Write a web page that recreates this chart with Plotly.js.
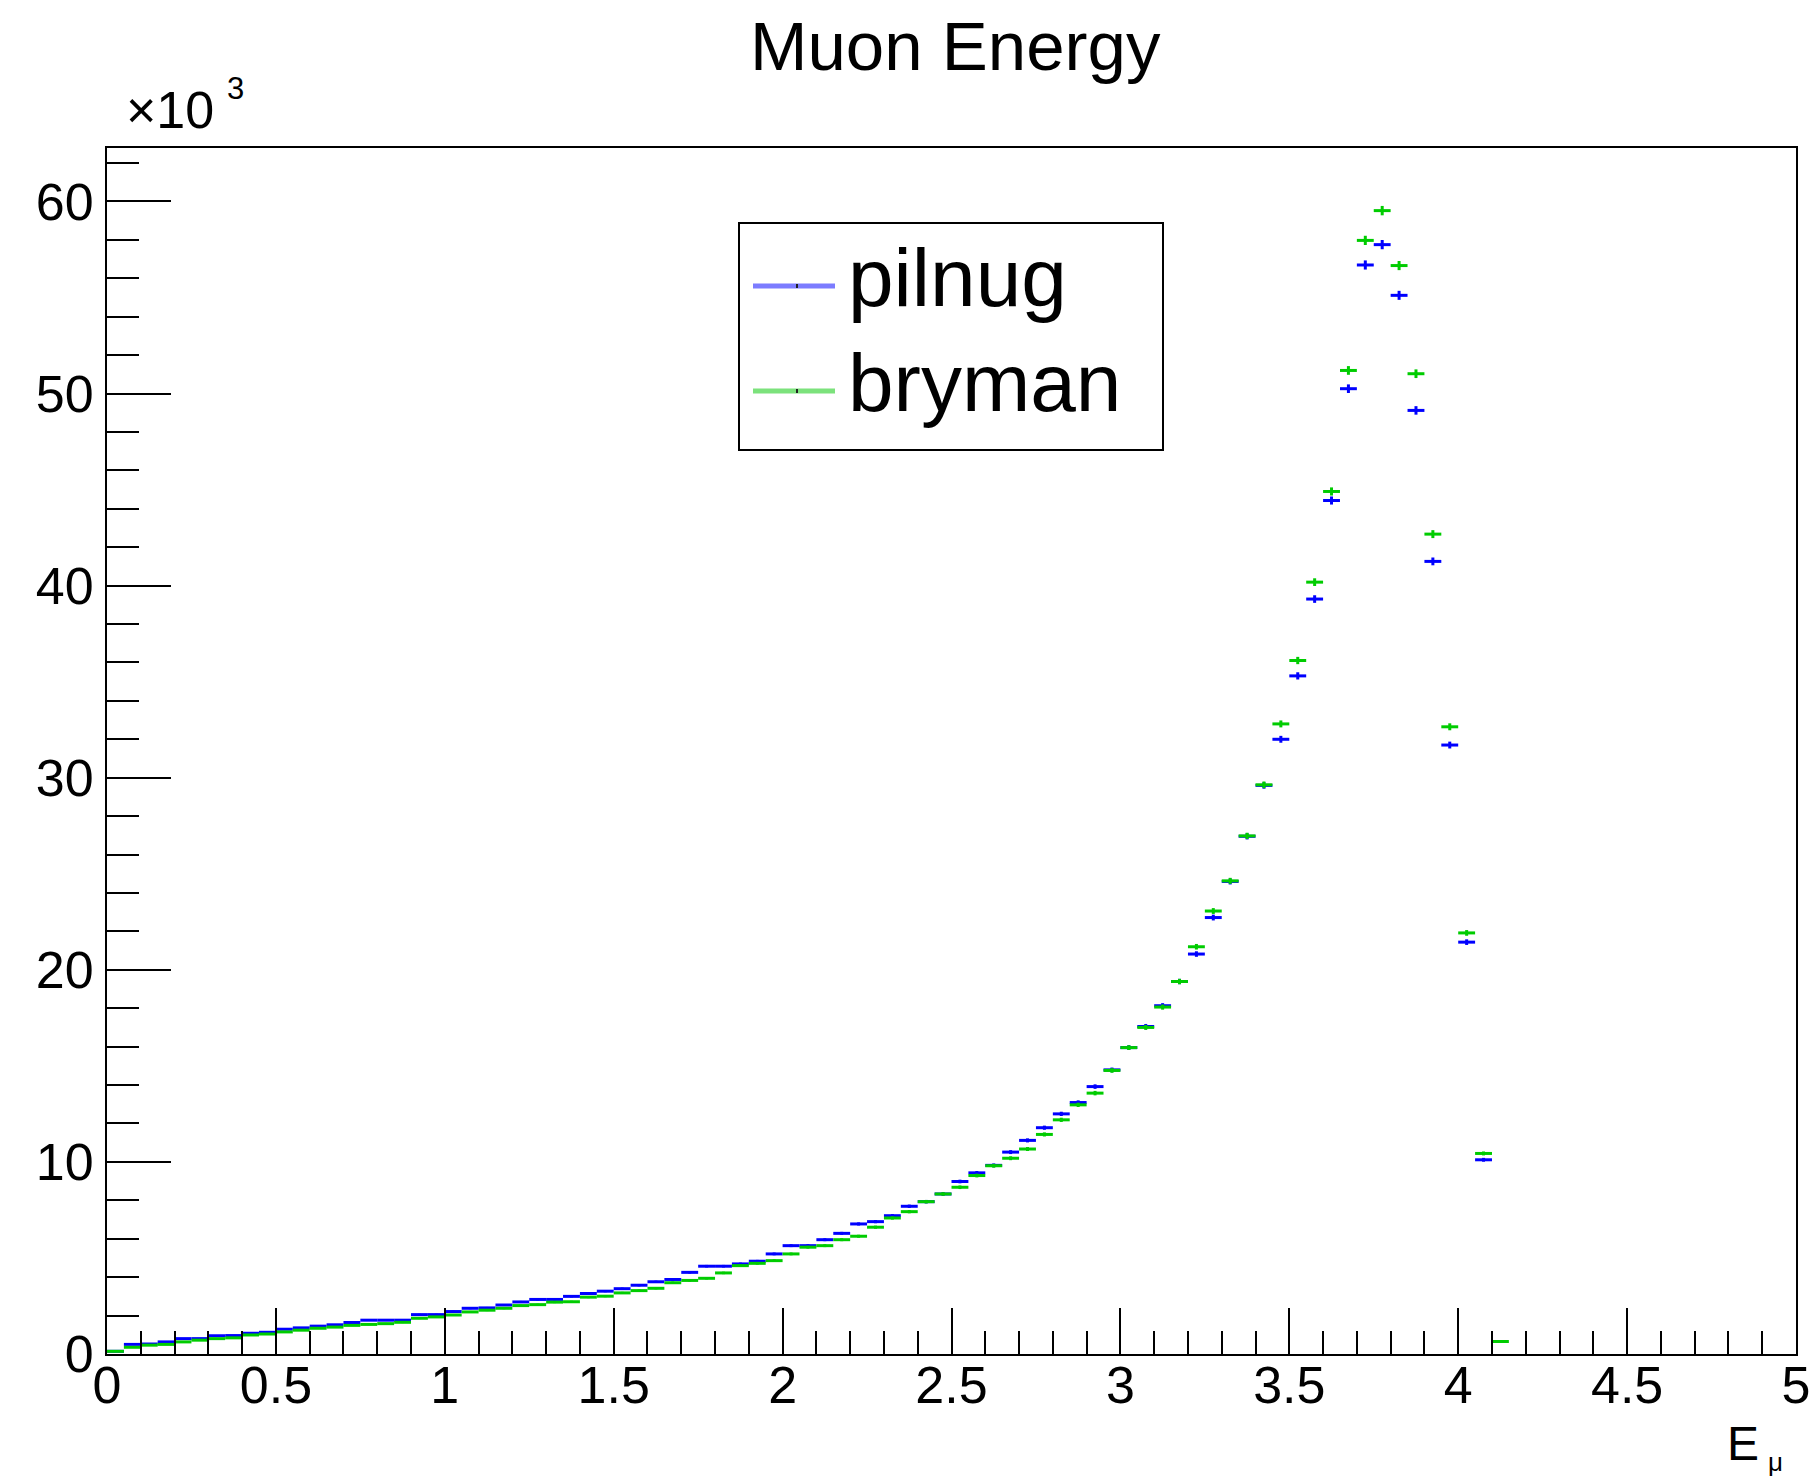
<!DOCTYPE html>
<html>
<head>
<meta charset="utf-8">
<script src="https://cdn.plot.ly/plotly-3.0.1.min.js"></script>
<style>
  html, body { margin: 0; padding: 0; background: #ffffff; }
  #chart { width: 1819px; height: 1476px; }
</style>
</head>
<body>
<div id="chart"></div>
<script>
// Muon energy spectra, 0.05-wide bins from 0 to 5; contents in units of 10^3 entries.
const binCenters = [
  0.025, 0.075, 0.125, 0.175, 0.225, 0.275, 0.325, 0.375, 0.425, 0.475,
  0.525, 0.575, 0.625, 0.675, 0.725, 0.775, 0.825, 0.875, 0.925, 0.975,
  1.025, 1.075, 1.125, 1.175, 1.225, 1.275, 1.325, 1.375, 1.425, 1.475,
  1.525, 1.575, 1.625, 1.675, 1.725, 1.775, 1.825, 1.875, 1.925, 1.975,
  2.025, 2.075, 2.125, 2.175, 2.225, 2.275, 2.325, 2.375, 2.425, 2.475,
  2.525, 2.575, 2.625, 2.675, 2.725, 2.775, 2.825, 2.875, 2.925, 2.975,
  3.025, 3.075, 3.125, 3.175, 3.225, 3.275, 3.325, 3.375, 3.425, 3.475,
  3.525, 3.575, 3.625, 3.675, 3.725, 3.775, 3.825, 3.875, 3.925, 3.975,
  4.025, 4.075, 4.125
];

const pilnug = [
  0.14, 0.50, 0.52, 0.63, 0.80, 0.80, 0.95, 0.96, 1.08, 1.13,
  1.29, 1.36, 1.45, 1.52, 1.64, 1.76, 1.76, 1.76, 2.05, 2.05,
  2.21, 2.38, 2.40, 2.55, 2.71, 2.84, 2.84, 3.00, 3.15, 3.27,
  3.40, 3.58, 3.76, 3.88, 4.25, 4.57, 4.57, 4.69, 4.83, 5.21,
  5.64, 5.64, 5.95, 6.28, 6.77, 6.89, 7.20, 7.69, 7.93, 8.33,
  8.98, 9.43, 9.82, 10.51, 11.12, 11.78, 12.50, 13.09, 13.92, 14.79,
  15.95, 17.05, 18.13, 19.39, 20.82, 22.72, 24.60, 26.95, 29.60, 32.00,
  35.30, 39.30, 44.43, 50.25, 56.69, 57.75, 55.11, 49.12, 41.26, 31.70,
  21.44, 10.11, null
];

const bryman = [
  0.14, 0.35, 0.46, 0.50, 0.63, 0.72, 0.80, 0.84, 0.99, 1.04,
  1.15, 1.24, 1.34, 1.40, 1.49, 1.54, 1.58, 1.65, 1.86, 1.93,
  2.03, 2.19, 2.28, 2.38, 2.52, 2.57, 2.70, 2.72, 2.96, 3.01,
  3.18, 3.30, 3.42, 3.71, 3.83, 3.94, 4.22, 4.60, 4.72, 4.86,
  5.21, 5.56, 5.64, 5.95, 6.13, 6.60, 7.08, 7.41, 7.93, 8.33,
  8.68, 9.29, 9.80, 10.19, 10.67, 11.43, 12.19, 12.97, 13.58, 14.76,
  15.95, 17.00, 18.06, 19.39, 21.20, 23.06, 24.63, 26.97, 29.63, 32.80,
  36.10, 40.18, 44.90, 51.20, 57.97, 59.52, 56.66, 51.03, 42.68, 32.65,
  21.92, 10.44, 0.65
];

const seriesNames = ["pilnug", "bryman"];
const xTickVals = [0, 0.5, 1, 1.5, 2, 2.5, 3, 3.5, 4, 4.5, 5];
const yTickVals = [0, 10, 20, 30, 40, 50, 60];

// Poisson error per bin, in the same 10^3 units
const poissonErr = arr => arr.map(v => (v == null ? null : Math.sqrt(v * 1000) / 1000));

const W = 1819, H = 1476;
const M = { l: 107, r: 23, t: 148, b: 122 };
const plotW = W - M.l - M.r, plotH = H - M.t - M.b;
const px = x => (x - M.l) / plotW;          // page pixel -> paper x
const py = y => (H - M.b - y) / plotH;      // page pixel -> paper y

const FONT = "Liberation Sans, Arial, Helvetica, sans-serif";
const BLUE = "#0000ff", GREEN = "#00cc00";
const BLUE_LEG = "#7c7cff", GREEN_LEG = "#7ce27c";

function histTrace(name, y, color) {
  return {
    type: "scatter",
    mode: "markers",
    name: name,
    x: binCenters,
    y: y,
    marker: { size: 2, color: "rgba(0,0,0,0)" },
    error_x: { type: "constant", value: 0.025, width: 0, thickness: 3, color: color },
    error_y: { type: "data", array: poissonErr(y), width: 0, thickness: 3, color: color },
    hoverinfo: "x+y",
    showlegend: false
  };
}

const data = [
  histTrace(seriesNames[0], pilnug, BLUE),
  histTrace(seriesNames[1], bryman, GREEN)
];

const axisCommon = {
  showline: true, linecolor: "#000", linewidth: 2, mirror: true,
  ticks: "inside", tickcolor: "#000", tickwidth: 2,
  showgrid: false, zeroline: false,
  tickfont: { family: FONT, size: 52, color: "#000" }
};

// legend box drawn in page pixels
const legBox = { x0: 739, x1: 1163, y0: 223, y1: 450 };
const legRows = [
  { y: 286, color: BLUE_LEG, label: seriesNames[0] },
  { y: 391, color: GREEN_LEG, label: seriesNames[1] }
];

const shapes = [
  { type: "rect", xref: "paper", yref: "paper",
    x0: px(legBox.x0), x1: px(legBox.x1), y0: py(legBox.y1), y1: py(legBox.y0),
    line: { color: "#000", width: 2 }, fillcolor: "#fff", layer: "above" }
];
const annotations = [];
legRows.forEach(r => {
  shapes.push({ type: "line", xref: "paper", yref: "paper",
    x0: px(753), x1: px(835), y0: py(r.y), y1: py(r.y),
    line: { color: r.color, width: 5 }, layer: "above" });
  shapes.push({ type: "line", xref: "paper", yref: "paper",
    x0: px(797), x1: px(797), y0: py(r.y - 2), y1: py(r.y + 2),
    line: { color: "#222", width: 2 }, layer: "above" });
  annotations.push({ xref: "paper", yref: "paper", x: px(846), y: py(r.y - 8),
    xanchor: "left", yanchor: "middle", showarrow: false, text: r.label,
    font: { family: FONT, size: 82, color: "#000" } });
});

// title, exponent label and axis title
annotations.push(
  { xref: "paper", yref: "paper", x: px(955), y: py(47), xanchor: "center", yanchor: "middle",
    showarrow: false, text: "Muon Energy", font: { family: FONT, size: 69, color: "#000" } },
  { xref: "paper", yref: "paper", x: px(124), y: py(110), xanchor: "left", yanchor: "middle",
    showarrow: false, text: "×10", font: { family: FONT, size: 52, color: "#000" } },
  { xref: "paper", yref: "paper", x: px(225), y: py(89), xanchor: "left", yanchor: "middle",
    showarrow: false, text: "3", font: { family: FONT, size: 31, color: "#000" } },
  { xref: "paper", yref: "paper", x: px(1725), y: py(1443), xanchor: "left", yanchor: "middle",
    showarrow: false, text: "E", font: { family: FONT, size: 48, color: "#000" } },
  { xref: "paper", yref: "paper", x: px(1766), y: py(1462), xanchor: "left", yanchor: "middle",
    showarrow: false, text: "μ", font: { family: FONT, size: 26, color: "#000" } }
);

const layout = {
  width: W, height: H,
  margin: { l: M.l, r: M.r, t: M.t, b: M.b, pad: 0 },
  paper_bgcolor: "#fff", plot_bgcolor: "#fff",
  showlegend: false,
  xaxis: Object.assign({}, axisCommon, {
    range: [0, 5], tickvals: xTickVals, ticklen: 46, ticklabelstandoff: -15,
    minor: { ticks: "inside", dtick: 0.1, tick0: 0, ticklen: 23, tickwidth: 2, tickcolor: "#000" }
  }),
  yaxis: Object.assign({}, axisCommon, {
    range: [0, 62.78], tickvals: yTickVals, ticklen: 64, ticklabelstandoff: 1,
    minor: { ticks: "inside", dtick: 2, tick0: 0, ticklen: 32, tickwidth: 2, tickcolor: "#000" }
  }),
  shapes: shapes,
  annotations: annotations
};

Plotly.newPlot("chart", data, layout, { displayModeBar: false, staticPlot: true });
</script>
</body>
</html>
